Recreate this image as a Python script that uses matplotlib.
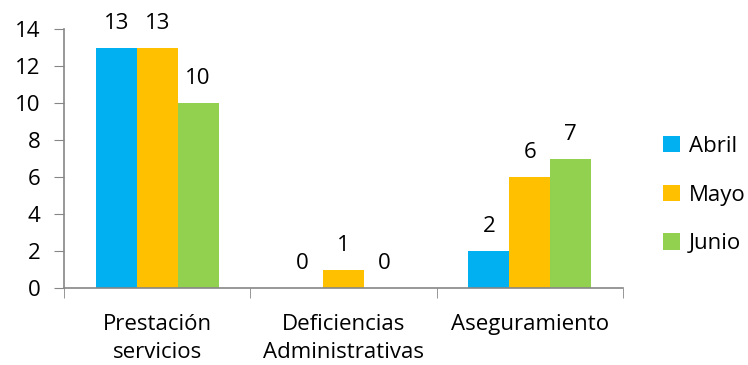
import matplotlib
matplotlib.use("Agg")
import matplotlib.pyplot as plt
from matplotlib.patches import Patch
import numpy as np

categories = ["Prestación\nservicios", "Deficiencias\nAdministrativas", "Aseguramiento"]
series_names = ["Abril", "Mayo", "Junio"]
abril = [13, 0, 2]
mayo = [13, 1, 6]
junio = [10, 0, 7]
colors = ["#00B0F0", "#FFC000", "#92D050"]
yticks = [0, 2, 4, 6, 8, 10, 12, 14]

plt.rcParams['font.family'] = ['Open Sans', 'DejaVu Sans']
FS = 16

fig = plt.figure(figsize=(7.48, 3.65), dpi=100)
ax = fig.add_axes([64/748, 1-288/365, (623-64)/748, (288-29)/365])

x = np.arange(len(categories))
w = 0.22
data = [abril, mayo, junio]
for i, (vals, c, name) in enumerate(zip(data, colors, series_names)):
    pos = x + (i - 1) * w
    ax.bar(pos, vals, width=w, color=c, label=name)
    for p, v in zip(pos, vals):
        ax.annotate(str(v), (p, v), xytext=(0, 10), textcoords="offset points",
                    ha="center", va="bottom", fontsize=FS, color="#000000")

ax.set_xlim(-0.5, 2.5)
ax.set_ylim(0, 14)
ax.set_yticks(yticks)
ax.set_yticklabels([str(t) for t in yticks], fontsize=FS)
ax.set_xticks(x)
ax.set_xticklabels(categories, fontsize=FS, linespacing=1.42)
ax.set_xticks([-0.5, 0.5, 1.5, 2.5], minor=True)
ax.tick_params(axis='x', which='major', length=0, pad=19)
ax.tick_params(axis='x', which='minor', length=7, color="#868686", direction='out')
ax.tick_params(axis='y', length=7, color="#868686", direction='out', pad=10)
for s in ['top', 'right']:
    ax.spines[s].set_visible(False)
for s in ['left', 'bottom']:
    ax.spines[s].set_color("#868686")
    ax.spines[s].set_linewidth(1.2)

handles = [Patch(facecolor=c, label=n) for c, n in zip(colors, series_names)]
fig.legend(handles=handles, loc='center left', bbox_to_anchor=(663/748, 1-195/365),
           frameon=False, fontsize=FS, handlelength=0.75, handleheight=0.75,
           labelspacing=1.25, handletextpad=0.4, borderpad=0, borderaxespad=0)

fig.savefig("out.png", dpi=100)
